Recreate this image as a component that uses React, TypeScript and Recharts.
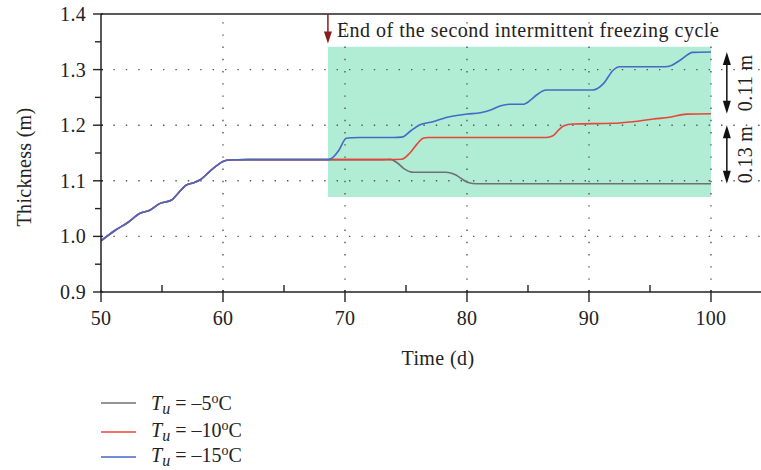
import React from 'react';
import { LineChart, Line, XAxis, YAxis, ReferenceLine, ReferenceArea, Label } from 'recharts';

// ---- data ----
const commonDays = [50, 51.2, 52.2, 53.2, 54.0, 54.8, 55.8, 56.2, 57.0, 57.6, 58.1, 59.2, 60.1, 60.5, 62, 65, 68.5];
const commonThick = [0.992, 1.0115, 1.025, 1.0415, 1.047, 1.059, 1.0655, 1.0745, 1.0925, 1.0966, 1.1014, 1.1225, 1.1356, 1.1374, 1.138, 1.138, 1.138];

const m5Days = [73.0, 73.7, 74.3, 74.8, 75.6, 78.3, 79.1, 79.6, 80.1, 80.8, 100];
const m5Thick = [1.138, 1.1385, 1.132, 1.1225, 1.1153, 1.1153, 1.1104, 1.103, 1.097, 1.0948, 1.0948];

const m10Days = [73.5, 74.65, 75.3, 75.9, 76.4, 76.8, 86.5, 87.05, 87.5, 87.9, 88.7, 92.0, 93.6, 95.3, 96.6, 98.0, 100];
const m10Thick = [1.138, 1.1387, 1.1495, 1.166, 1.1764, 1.178, 1.178, 1.181, 1.191, 1.1986, 1.2021, 1.2034, 1.2063, 1.2112, 1.2142, 1.22, 1.2207];

const m15Days = [68.8, 69.5, 70.1, 70.6, 71.2, 74.0, 74.65, 75.4, 76.1, 77.2, 78.3, 80.0, 81.1, 82.0, 82.7, 83.5, 84.6, 85.2, 85.7, 86.5, 90.3, 90.7, 91.2, 92.0, 92.5, 96.2, 96.8, 97.5, 98.5, 100];
const m15Thick = [1.139, 1.155, 1.1764, 1.1775, 1.178, 1.178, 1.1785, 1.19, 1.2003, 1.2063, 1.214, 1.22, 1.2225, 1.228, 1.2345, 1.2376, 1.2376, 1.245, 1.2543, 1.2633, 1.2633, 1.266, 1.2753, 1.2993, 1.3052, 1.3052, 1.308, 1.3173, 1.331, 1.3317];

const seriesNames = ['–5', '–10', '–15'];
const seriesColors = ['#707070', '#e8443a', '#4669c6'];

const xTicks = [50, 55, 60, 65, 70, 75, 80, 85, 90, 95, 100];
const xMajor = [50, 60, 70, 80, 90, 100];
const yTicks = [0.9, 0.95, 1.0, 1.05, 1.1, 1.15, 1.2, 1.25, 1.3, 1.35, 1.4];
const yMajor = [0.9, 1.0, 1.1, 1.2, 1.3, 1.4];
const xGrid = [60, 70, 80, 90, 100];
const yGrid = [1.0, 1.1, 1.2, 1.3];

// annotation values
const freezeEndDay = 68.6;
const boxTop = 1.341;
const boxBottom = 1.071;
const boxRight = 100;
const arrowDay = 101.3;
const endM15 = 1.3317;
const endM10 = 1.2207;
const endM5 = 1.0948;
const annText = 'End of the second intermittent freezing cycle';

const toPts = (d: number[], v: number[]) => d.map((t, i) => ({ t, h: v[i] }));
const series = [
  toPts([...commonDays, ...m5Days], [...commonThick, ...m5Thick]),
  toPts([...commonDays, ...m10Days], [...commonThick, ...m10Thick]),
  toPts([...commonDays, ...m15Days], [...commonThick, ...m15Thick]),
];

const FONT = '"Liberation Serif", "Times New Roman", serif';
const AX = '#222';

const XTick = (p: any) => {
  const { x, y, payload } = p;
  const major = xMajor.includes(payload.value);
  return (
    <g>
      {major ? (
        <line x1={x} x2={x} y1={y - 2} y2={y + 10} stroke={AX} strokeWidth={1.4} />
      ) : (
        <line x1={x} x2={x} y1={y - 7} y2={y} stroke={AX} strokeWidth={1.4} />
      )}
      {major && (
        <text x={x} y={y + 33} textAnchor="middle" fontFamily={FONT} fontSize={20} fill="#222" letterSpacing={0.3}>
          {payload.value}
        </text>
      )}
    </g>
  );
};

const YTick = (p: any) => {
  const { x, y, payload } = p;
  const major = yMajor.some((v) => Math.abs(v - payload.value) < 1e-6);
  return (
    <g>
      {major ? (
        <line x1={x - 8} x2={x + 2} y1={y} y2={y} stroke={AX} strokeWidth={1.4} />
      ) : (
        <line x1={x - 6} x2={x} y1={y} y2={y} stroke={AX} strokeWidth={1.4} />
      )}
      {major && (
        <text x={x - 15} y={y + 7} textAnchor="end" fontFamily={FONT} fontSize={20} fill="#222" letterSpacing={0.3}>
          {payload.value.toFixed(1)}
        </text>
      )}
    </g>
  );
};

const RedArrow = (p: any) => {
  const { x1, y1, y2 } = p;
  return (
    <g>
      <line x1={x1} x2={x1} y1={y1} y2={y2 - 10} stroke="#8b1c1c" strokeWidth={1.5} />
      <path d={`M${x1 - 4},${y2 - 12} L${x1 + 4},${y2 - 12} L${x1},${y2} Z`} fill="#8b1c1c" />
      <text x={x1 + 9} y={y1 + 23} fontFamily={FONT} fontSize={20} fill="#222" letterSpacing={0.5}>
        {annText}
      </text>
    </g>
  );
};

const makeDouble = (label: string) => (p: any) => {
  const { x1, y1, y2 } = p;
  const top = Math.min(y1, y2);
  const bot = Math.max(y1, y2);
  const mid = (top + bot) / 2;
  return (
    <g>
      <line x1={x1} x2={x1} y1={top + 10} y2={bot - 10} stroke="#111" strokeWidth={1.5} />
      <path d={`M${x1},${top} L${x1 - 4},${top + 13} L${x1 + 4},${top + 13} Z`} fill="#111" />
      <path d={`M${x1},${bot} L${x1 - 4},${bot - 13} L${x1 + 4},${bot - 13} Z`} fill="#111" />
      <text
        x={x1 + 25}
        y={mid}
        transform={`rotate(-90 ${x1 + 25} ${mid})`}
        textAnchor="middle"
        fontFamily={FONT}
        fontSize={20}
        fill="#222"
        letterSpacing={0.3}
      >
        {label}
      </text>
    </g>
  );
};

const XTitle = (p: any) => {
  const { viewBox } = p;
  return (
    <text x={viewBox.x + viewBox.width / 2 + 7} y={viewBox.y + 73} textAnchor="middle" fontFamily={FONT} fontSize={20} fill="#222" letterSpacing={0.4}>
      Time (d)
    </text>
  );
};
const YTitle = (p: any) => {
  const { viewBox } = p;
  const cx = 31;
  const cy = viewBox.y + viewBox.height / 2 + 14;
  return (
    <text x={cx} y={cy} transform={`rotate(-90 ${cx} ${cy})`} textAnchor="middle" fontFamily={FONT} fontSize={20} fill="#222" letterSpacing={0.3}>
      Thickness (m)
    </text>
  );
};

const legendLineY = [23, 52, 77];
const legendTextY = [30, 57, 82];

const LegendBox = () => (
  <svg width={300} height={90} style={{ position: 'absolute', left: 0, top: 380 }}>
    {seriesNames.map((n, i) => (
      <g key={n}>
        <line x1={101} x2={136} y1={legendLineY[i]} y2={legendLineY[i]} stroke={seriesColors[i]} strokeWidth={1.5} />
        <text x={151} y={legendTextY[i]} fontFamily={FONT} fontSize={20} fill="#222">
          <tspan fontStyle="italic">T</tspan>
          <tspan fontStyle="italic" fontSize={16} dy={4}>u</tspan>
          <tspan dy={-4}>{` = ${n}`}</tspan>
          <tspan fontSize={14} dy={-7}>o</tspan>
          <tspan dy={7}>C</tspan>
        </text>
      </g>
    ))}
  </svg>
);

export default function App() {
  return (
    <div style={{ position: 'absolute', left: 0, top: 0, width: 761, height: 470, background: '#fff' }}>
      <LineChart width={761} height={470} margin={{ top: 14, right: 0, bottom: 138, left: 0 }}>
        <XAxis
          dataKey="t"
          type="number"
          domain={[50, 104.1]}
          ticks={xTicks}
          interval={0}
          allowDataOverflow
          tickSize={0}
          tickMargin={0}
          tickLine={false}
          tick={<XTick />}
          height={40}
          axisLine={{ stroke: AX, strokeWidth: 1.5 }}
        >
          <Label content={<XTitle />} />
        </XAxis>
        <YAxis
          dataKey="h"
          type="number"
          domain={[0.9, 1.4]}
          ticks={yTicks}
          interval={0}
          allowDataOverflow
          tickSize={0}
          tickMargin={0}
          tickLine={false}
          tick={<YTick />}
          width={101}
          axisLine={{ stroke: AX, strokeWidth: 1.5 }}
        >
          <Label content={<YTitle />} />
        </YAxis>
        <ReferenceArea x1={freezeEndDay} x2={boxRight} y1={boxBottom} y2={boxTop} fill="#b1edd5" fillOpacity={1} stroke="none" />
        {xGrid.map((v) => (
          <ReferenceLine key={'gx' + v} x={v} stroke="#555" strokeWidth={1.4} strokeDasharray="1.4 10.8" />
        ))}
        {yGrid.map((v) => (
          <ReferenceLine key={'gy' + v} y={v} stroke="#555" strokeWidth={1.4} strokeDasharray="1.4 11" />
        ))}
        <ReferenceLine y={1.4} stroke={AX} strokeWidth={1.5} />
        {series.map((d, i) => (
          <Line
            key={i}
            data={d}
            dataKey="h"
            name={seriesNames[i]}
            type="monotone"
            stroke={seriesColors[i]}
            strokeWidth={1.6}
            dot={false}
            isAnimationActive={false}
          />
        ))}
        <ReferenceLine segment={[{ x: freezeEndDay, y: 1.4 }, { x: freezeEndDay, y: 1.347 }]} shape={RedArrow} />
        <ReferenceLine segment={[{ x: arrowDay, y: endM15 }, { x: arrowDay, y: endM10 }]} shape={makeDouble('0.11 m')} />
        <ReferenceLine segment={[{ x: arrowDay, y: endM10 - 0.0207 }, { x: arrowDay, y: endM5 }]} shape={makeDouble('0.13 m')} />
      </LineChart>
      <LegendBox />
    </div>
  );
}
